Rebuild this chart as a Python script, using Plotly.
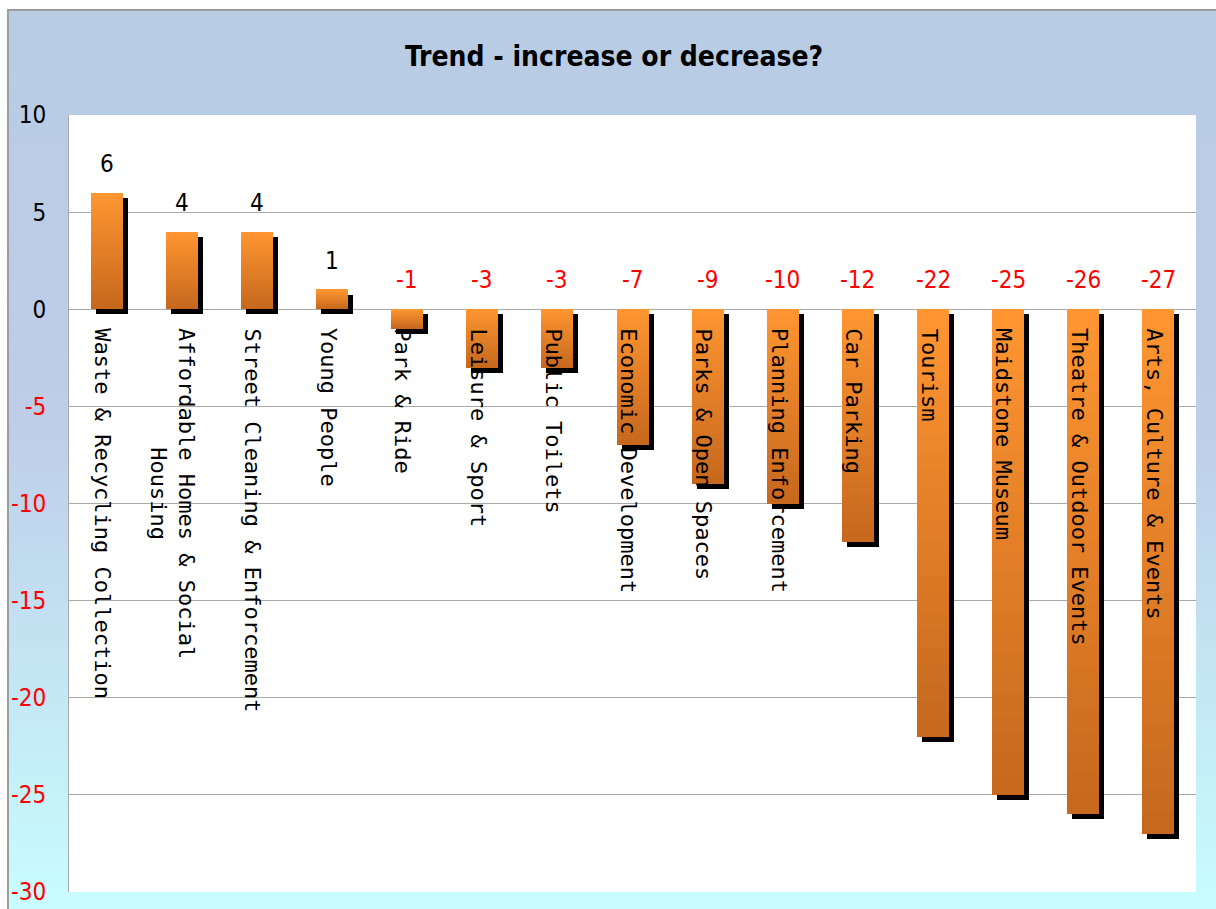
import base64
import plotly.graph_objects as go

# ---------------- data ----------------
categories = [
    "Waste & Recycling Collection",
    "Affordable Homes & Social<br>Housing",
    "Street Cleaning & Enforcement",
    "Young People",
    "Park & Ride",
    "Leisure & Sport",
    "Public Toilets",
    "Economic Development",
    "Parks & Open Spaces",
    "Planning Enforcement",
    "Car Parking",
    "Tourism",
    "Maidstone Museum",
    "Theatre & Outdoor Events",
    "Arts, Culture & Events",
]
values = [6, 4, 4, 1, -1, -3, -3, -7, -9, -10, -12, -22, -25, -26, -27]
y_ticks = [10, 5, 0, -5, -10, -15, -20, -25, -30]
title_text = "Trend - increase or decrease?"

# ---------------- geometry ----------------
W, H = 1216, 909
ML, MR, MT, MB = 69, 20, 115, 17
YMIN, YMAX = -30, 10
plot_w = W - ML - MR
plot_h = H - MT - MB
px_per_unit = plot_h / (YMAX - YMIN)
slot_px = plot_w / len(categories)
bar_w = 32 / slot_px
shadow_dx = 5 / slot_px
shadow_dy = 5 / px_per_unit

xcat = list(range(len(categories)))
bottoms = [min(v, 0) for v in values]
lengths = [abs(v) for v in values]

fig = go.Figure()

# shadow
fig.add_trace(go.Bar(
    x=xcat, y=lengths, base=[b - shadow_dy for b in bottoms],
    width=bar_w, offset=-bar_w / 2 + shadow_dx,
    marker=dict(color="#000000", line=dict(width=0)),
    hoverinfo="skip", showlegend=False,
))

# gradient bars (dark at bottom -> light at top)
dark = (0xC6, 0x67, 0x1D)
light = (0xFF, 0x96, 0x31)
K = 24
for k in range(K):
    t = (k + 0.5) / K
    col = "rgb(%d,%d,%d)" % tuple(round(d + (l - d) * t) for d, l in zip(dark, light))
    fig.add_trace(go.Bar(
        x=xcat,
        y=[L * (1 - k / K) for L in lengths],
        base=[b + L * k / K for b, L in zip(bottoms, lengths)],
        width=bar_w, offset=-bar_w / 2,
        marker=dict(color=col, line=dict(width=0)),
        hoverinfo="skip", showlegend=False,
    ))

label_font = "DejaVu Sans Mono, monospace"
num_font = "Liberation Sans Narrow, DejaVu Sans Condensed, Arial Narrow, sans-serif"

annotations = []
for i, (cat, v) in enumerate(zip(categories, values)):
    annotations.append(dict(
        x=i, y=max(v, 0), xref="x", yref="y",
        text=str(v), showarrow=False,
        xanchor="center", yanchor="bottom", yshift=13,
        font=dict(family=num_font, size=24, color="#000000" if v >= 0 else "#FF0000"),
    ))
    annotations.append(dict(
        x=i, y=0, xref="x", yref="y",
        text=cat, showarrow=False, textangle=90,
        xanchor="center", yanchor="top",
        yshift=-17, xshift=-9 if "<br>" in cat else -4,
        font=dict(family=label_font, size=22, color="#000000"),
    ))

ticktext = [str(t) if t >= 0 else '<span style="color:#FF0000">%d</span>' % t for t in y_ticks]

# background gradient for chart area
svg = (
    '<svg xmlns="http://www.w3.org/2000/svg" width="100" height="100" preserveAspectRatio="none">'
    '<defs><linearGradient id="g" x1="0" y1="0" x2="0" y2="1">'
    '<stop offset="0" stop-color="#B8CCE4"/>'
    '<stop offset="0.45" stop-color="#BECDE8"/>'
    '<stop offset="1" stop-color="#C8FEFF"/>'
    '</linearGradient></defs>'
    '<rect width="100" height="100" fill="url(#g)"/></svg>'
)
src = "data:image/svg+xml;base64," + base64.b64encode(svg.encode()).decode()

cx0, cy0 = 8, 10
cx1, cy1 = W + 10, H + 10
px2x = lambda px: (px - ML) / plot_w
py2y = lambda py: (H - MB - py) / plot_h

fig.update_layout(
    width=W, height=H,
    margin=dict(l=ML, r=MR, t=MT, b=MB, pad=0, autoexpand=False),
    paper_bgcolor="#FFFFFF",
    plot_bgcolor="#FFFFFF",
    barmode="overlay",
    bargap=0,
    showlegend=False,
    title=dict(
        text="<b>%s</b>" % title_text,
        x=614 / W, xanchor="center", xref="container",
        y=1 - 56 / H, yanchor="middle", yref="container",
        font=dict(family="DejaVu Sans Condensed, DejaVu Sans, sans-serif", size=28, color="#000000"),
    ),
    xaxis=dict(
        range=[-0.5, len(categories) - 0.5], automargin=False,
        showticklabels=False, showgrid=False, zeroline=False,
        showline=False, ticks="", fixedrange=True,
    ),
    yaxis=dict(
        range=[YMIN, YMAX], automargin=False,
        tickvals=y_ticks, ticktext=ticktext,
        tickfont=dict(family=num_font, size=24, color="#000000"),
        ticks="", ticklabelstandoff=17,
        showgrid=True, gridcolor="#A9A9A9", gridwidth=1,
        zeroline=True, zerolinecolor="#A9A9A9", zerolinewidth=1,
        showline=True, linecolor="#A9A9A9", linewidth=1,
        fixedrange=True,
    ),
    annotations=annotations,
    images=[dict(
        source=src, xref="paper", yref="paper",
        x=px2x(cx0), y=py2y(cy0),
        sizex=px2x(cx1) - px2x(cx0), sizey=py2y(cy0) - py2y(cy1),
        xanchor="left", yanchor="top", sizing="stretch", layer="below",
    )],
    shapes=[
        dict(
            type="rect", xref="x domain", yref="y domain",
            x0=0, x1=1, y0=0, y1=1,
            line=dict(width=0), fillcolor="#FFFFFF", layer="below",
        ),
        dict(
            type="rect", xref="paper", yref="paper",
            x0=px2x(cx0), x1=px2x(cx1), y0=py2y(cy1), y1=py2y(cy0),
            line=dict(color="#9C9C9C", width=2), fillcolor="rgba(0,0,0,0)", layer="above",
        ),
    ],
)

fig.write_html(
    "out.html",
    post_script="document.body.style.margin='0';document.body.style.overflow='hidden';",
)
